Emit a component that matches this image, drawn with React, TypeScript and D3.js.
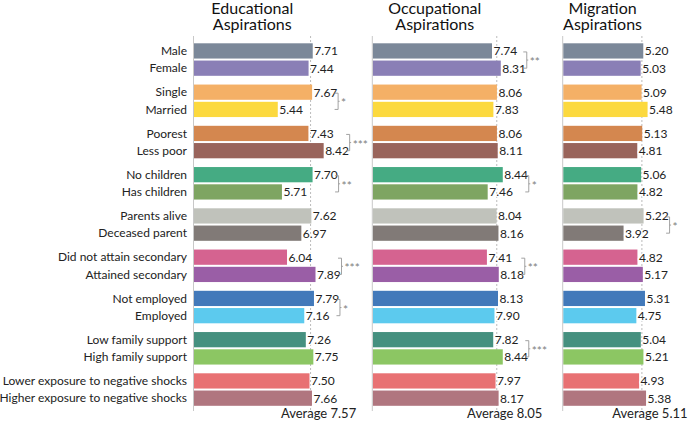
import React from "react";
import * as d3 from "d3";

const categories = [
  "Male", "Female",
  "Single", "Married",
  "Poorest", "Less poor",
  "No children", "Has children",
  "Parents alive", "Deceased parent",
  "Did not attain secondary", "Attained secondary",
  "Not employed", "Employed",
  "Low family support", "High family support",
  "Lower exposure to negative shocks", "Higher exposure to negative shocks",
];

const educational = [7.71, 7.44, 7.67, 5.44, 7.43, 8.42, 7.70, 5.71, 7.62, 6.97, 6.04, 7.89, 7.79, 7.16, 7.26, 7.75, 7.50, 7.66];
const occupational = [7.74, 8.31, 8.06, 7.83, 8.06, 8.11, 8.44, 7.46, 8.04, 8.16, 7.41, 8.18, 8.13, 7.90, 7.82, 8.44, 7.97, 8.17];
const migration = [5.20, 5.03, 5.09, 5.48, 5.13, 4.81, 5.06, 4.82, 5.22, 3.92, 4.82, 5.17, 5.31, 4.75, 5.04, 5.21, 4.93, 5.38];

const averages = [7.57, 8.05, 5.11];
const titles = [["Educational", "Aspirations"], ["Occupational", "Aspirations"], ["Migration", "Aspirations"]];

// [group index, stars]
const sigEducational: [number, string][] = [[1, "*"], [2, "***"], [3, "**"], [5, "***"], [6, "*"]];
const sigOccupational: [number, string][] = [[0, "**"], [3, "*"], [5, "**"], [7, "***"]];
const sigMigration: [number, string][] = [[4, "*"]];

const colors = [
  "#7b8899", "#8a7fb6",
  "#f4b066", "#fcd93e",
  "#d4874f", "#99645b",
  "#45ab83", "#7ea562",
  "#c0c2bb", "#817a77",
  "#d56390", "#9a5ea6",
  "#4279ba", "#5ccaee",
  "#45907f", "#8cc663",
  "#e87173", "#b0767f",
];

const FONT = "Lato, 'Noto Sans', sans-serif";

export default function App() {
  const width = 690;
  const height = 426;
  const groups = d3.range(categories.length / 2);
  const groupY = d3.scaleBand<number>().domain(groups).range([43.3, 405.8]).paddingInner(0.212).paddingOuter(0);
  const pairY = d3.scaleBand<number>().domain([0, 1]).range([0, groupY.bandwidth()]).paddingInner(0.116);
  const barY = (i: number) => (groupY(Math.floor(i / 2)) as number) + (pairY(i % 2) as number);
  const bh = pairY.bandwidth();

  const panels = [
    { x0: 194, values: educational, avg: averages[0], title: titles[0], sig: sigEducational },
    { x0: 372.8, values: occupational, avg: averages[1], title: titles[1], sig: sigOccupational },
    { x0: 563.2, values: migration, avg: averages[2], title: titles[2], sig: sigMigration },
  ];

  return (
    <svg width={width} height={height} style={{ position: "absolute", left: 0, top: 0, background: "#fff" }} fontFamily={FONT}>
      {categories.map((c, i) => (
        <text key={c} x={187} y={barY(i) + bh / 2 + 4.2} textAnchor="end" fontSize={12} fill="#222">
          {c}
        </text>
      ))}
      {panels.map((p, pi) => {
        const x = d3.scaleLinear().domain([0, 10]).range([p.x0, p.x0 + 154]);
        const ax = x(p.avg);
        const mid = (p.x0 + ax) / 2;
        return (
          <g key={pi}>
            <text x={mid} y={14.3} textAnchor="middle" fontSize={16} fill="#111">{p.title[0]}</text>
            <text x={mid} y={29.8} textAnchor="middle" fontSize={16} fill="#111">{p.title[1]}</text>
            <line x1={ax} x2={ax} y1={36} y2={410} stroke="#bbb" strokeWidth={1} strokeDasharray="2,2" />
            {p.values.map((v, i) => (
              <rect key={i} x={p.x0} y={barY(i)} width={x(v) - p.x0} height={bh} fill={colors[i]} />
            ))}
            <line x1={p.x0 - 0.5} x2={p.x0 - 0.5} y1={36} y2={411} stroke="#c8c8c8" strokeWidth={1} />
            {p.values.map((v, i) => (
              <text key={i} x={x(v) + 1.5} y={barY(i) + bh / 2 + 4.5} fontSize={12} fill="#222"
                stroke="#fff" strokeWidth={2.5} paintOrder="stroke">
                {v.toFixed(2)}
              </text>
            ))}
            {p.sig.map(([g, s]) => {
              const a = p.values[g * 2];
              const b = p.values[g * 2 + 1];
              const bx = x(Math.max(a, b)) + 26;
              const y1 = barY(g * 2) + bh / 2 + 1;
              const y2 = barY(g * 2 + 1) + bh / 2;
              const ym = (y1 + y2) / 2;
              return (
                <g key={g}>
                  <path d={`M${bx - 3.5},${y1}H${bx}V${y2}H${bx - 3.5}M${bx},${ym}H${bx + 1.5}`} fill="none" stroke="#999" strokeWidth={0.9} />
                  <text x={bx + 3} y={ym + 6} fontSize={12} fill="#808080">{s}</text>
                </g>
              );
            })}
            <text x={ax + 8} y={418} textAnchor="middle" fontSize={13} fill="#222">Average {p.avg.toFixed(2)}</text>
          </g>
        );
      })}
    </svg>
  );
}
